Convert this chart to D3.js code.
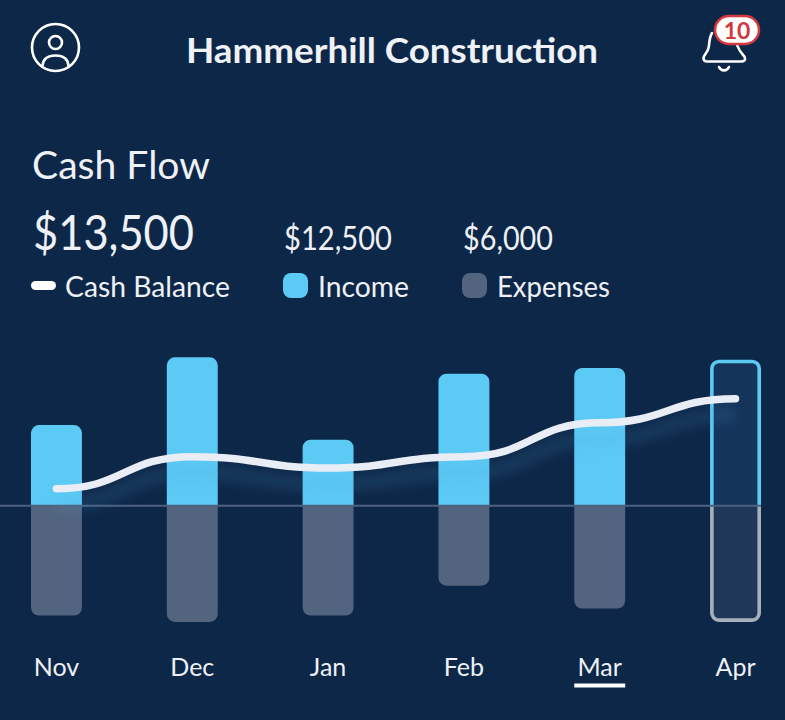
<!DOCTYPE html>
<html lang="en">
<head>
<meta charset="UTF-8">
<title>Hammerhill Construction - Cash Flow</title>
<script src="https://d3js.org/d3.v7.min.js"></script>
<style>
  html, body { margin: 0; padding: 0; background: #0d2748; }
  svg { display: block; }
  text { font-family: Lato, "Noto Sans", sans-serif; fill: #eef1f6; }
</style>
</head>
<body>
<svg width="785" height="720"></svg>
<script>
// values
var months = ["Nov", "Dec", "Jan", "Feb", "Mar", "Apr"];
var income = [6900, 12700, 5650, 11300, 11800, 12500];
var expenses = [9400, 9950, 9400, 6850, 8800, 9950];
var cashBalance = [1450, 4200, 3230, 4200, 7100, 9160];
var legendLabels = ["Cash Balance", "Income", "Expenses"];
var legendValues = ["$13,500", "$12,500", "$6,000"];
var selectedMonth = "Mar";
var outlinedMonth = "Apr";

var bg = "#0d2748", incomeColor = "#5bcaf5", expenseColor = "#53647e", lineColor = "#e9edf5";

var svg = d3.select("svg");

// scales
var zeroY = 505.7, pxPerDollar = 0.01168;
var x = d3.scaleBand().domain(months).range([31, 761]).paddingInner(0.625).paddingOuter(0);
var y = d3.scaleLinear().domain([-10000, 13000])
  .range([zeroY + 10000 * pxPerDollar, zeroY - 13000 * pxPerDollar]);

// bar with only the far end rounded, inset keeps an outline inside the bar's size
function barPath(month, value, r, inset) {
  var s = value > 0 ? 1 : -1;
  var sweep = value > 0 ? 1 : 0;
  var x0 = x(month) + inset, x1 = x(month) + x.bandwidth() - inset;
  var y0 = y(0), y1 = y(value) + s * inset;
  return "M" + x0 + "," + y0 +
    "V" + (y1 + s * r) +
    "A" + r + "," + r + " 0 0 " + sweep + " " + (x0 + r) + "," + y1 +
    "H" + (x1 - r) +
    "A" + r + "," + r + " 0 0 " + sweep + " " + x1 + "," + (y1 + s * r) +
    "V" + y0;
}

var defs = svg.append("defs");
defs.append("filter").attr("id", "lineShadow")
  .attr("x", "-10%").attr("y", "-60%").attr("width", "120%").attr("height", "300%")
  .append("feGaussianBlur").attr("stdDeviation", 6);

// income bars
svg.append("g").selectAll("path")
  .data(months)
  .join("path")
  .attr("d", function(m, i) {
    return m === outlinedMonth ? barPath(m, income[i], 7, 1.8) : barPath(m, income[i], 8, 0) + "Z";
  })
  .attr("fill", function(m) { return m === outlinedMonth ? "#14345a" : incomeColor; })
  .attr("stroke", function(m) { return m === outlinedMonth ? incomeColor : "none"; })
  .attr("stroke-width", 3.6);

// expense bars
svg.append("g").selectAll("path")
  .data(months)
  .join("path")
  .attr("d", function(m, i) {
    return m === outlinedMonth ? barPath(m, -expenses[i], 7, 1.8) : barPath(m, -expenses[i], 8, 0) + "Z";
  })
  .attr("fill", function(m) { return m === outlinedMonth ? "#1f3859" : expenseColor; })
  .attr("stroke", function(m) { return m === outlinedMonth ? "#a7afbd" : "none"; })
  .attr("stroke-width", 3.6);

// zero line
svg.append("line")
  .attr("x1", 0).attr("x2", 761)
  .attr("y1", y(0)).attr("y2", y(0))
  .attr("stroke", "#4d6180").attr("stroke-width", 2);

// cash balance line
var line = d3.line()
  .x(function(d, i) { return x(months[i]) + x.bandwidth() / 2; })
  .y(function(d) { return y(d); })
  .curve(d3.curveBumpX);

svg.append("path")
  .attr("d", line(cashBalance))
  .attr("transform", "translate(0,16)")
  .attr("fill", "none")
  .attr("stroke", "#4a9ccb")
  .attr("stroke-opacity", 0.16)
  .attr("stroke-width", 14)
  .attr("filter", "url(#lineShadow)");

svg.append("path")
  .attr("d", line(cashBalance))
  .attr("fill", "none")
  .attr("stroke", lineColor)
  .attr("stroke-width", 7.5)
  .attr("stroke-linecap", "round");

// month axis
var axis = svg.append("g")
  .attr("transform", "translate(0,676)")
  .call(d3.axisBottom(x).tickSize(0).tickPadding(0));
axis.select(".domain").remove();
axis.selectAll("text")
  .attr("y", 0).attr("dy", 0)
  .attr("font-size", 25)
  .style("font-family", "Lato, 'Noto Sans', sans-serif")
  .style("fill", "#eef1f6");

svg.append("rect")
  .attr("x", x(selectedMonth)).attr("width", x.bandwidth())
  .attr("y", 683.5).attr("height", 4)
  .attr("fill", "#ffffff");

// header
svg.append("text").attr("x", 392).attr("y", 63).attr("text-anchor", "middle")
  .attr("font-size", 35).attr("font-weight", 700)
  .attr("textLength", 412).attr("lengthAdjust", "spacingAndGlyphs")
  .text("Hammerhill Construction");

svg.append("text").attr("x", 32).attr("y", 179)
  .attr("font-size", 39)
  .attr("textLength", 178).attr("lengthAdjust", "spacingAndGlyphs")
  .text("Cash Flow");

// legend values and labels
var valueX = [33, 284, 463], valueSize = [49, 32, 32], valueLen = [161, 108, 90];
svg.append("g").selectAll("text")
  .data(legendValues)
  .join("text")
  .attr("x", function(d, i) { return valueX[i]; })
  .attr("y", 250)
  .attr("font-size", function(d, i) { return valueSize[i]; })
  .attr("textLength", function(d, i) { return valueLen[i]; })
  .attr("lengthAdjust", "spacingAndGlyphs")
  .text(function(d) { return d; });

var labelX = [65, 318, 497], labelLen = [165, 91, 113];
svg.append("g").selectAll("text")
  .data(legendLabels)
  .join("text")
  .attr("x", function(d, i) { return labelX[i]; })
  .attr("y", 297)
  .attr("font-size", 28)
  .attr("textLength", function(d, i) { return labelLen[i]; })
  .attr("lengthAdjust", "spacingAndGlyphs")
  .text(function(d) { return d; });

svg.append("rect").attr("x", 31).attr("y", 281).attr("width", 25).attr("height", 9)
  .attr("rx", 4.5).attr("fill", "#ffffff");
svg.append("rect").attr("x", 283).attr("y", 273).attr("width", 25).attr("height", 25)
  .attr("rx", 8).attr("fill", incomeColor);
svg.append("rect").attr("x", 462).attr("y", 273).attr("width", 25).attr("height", 25)
  .attr("rx", 8).attr("fill", expenseColor);

// user icon
var user = svg.append("g").attr("fill", "none").attr("stroke", "#ffffff").attr("stroke-width", 2.6);
user.append("circle").attr("cx", 55.5).attr("cy", 47.5).attr("r", 23.5);
user.append("circle").attr("cx", 55.5).attr("cy", 42.5).attr("r", 6.5);
user.append("path").attr("d", "M42.5,66 C43,59 48,55.5 55.5,55.5 C63,55.5 68,59 68.5,66");

// bell icon
var bell = svg.append("g").attr("fill", "none").attr("stroke", "#ffffff")
  .attr("stroke-width", 2.6).attr("stroke-linecap", "round").attr("stroke-linejoin", "round");
bell.append("path").attr("d", "M712,33 C709,38 709.5,44 708.5,48 C707.5,53 703.5,55 703.5,58 C703.5,60.5 705,61.5 707,61.5 H741 C744,61.5 745.5,60 745,58 C744.5,55 740,53 738.5,48 L736.5,44");
bell.append("path").attr("d", "M719,67 C721,71.5 727,71.5 729,67");

// notification badge
svg.append("rect").attr("x", 715).attr("y", 16).attr("width", 44).attr("height", 28)
  .attr("rx", 14).attr("fill", "#ffffff").attr("stroke", "#d2383c").attr("stroke-width", 2.5);
svg.append("text").attr("x", 737).attr("y", 38.5).attr("text-anchor", "middle")
  .attr("font-size", 23).attr("font-weight", 700).style("fill", "#d2383c").text("10");
</script>
</body>
</html>
